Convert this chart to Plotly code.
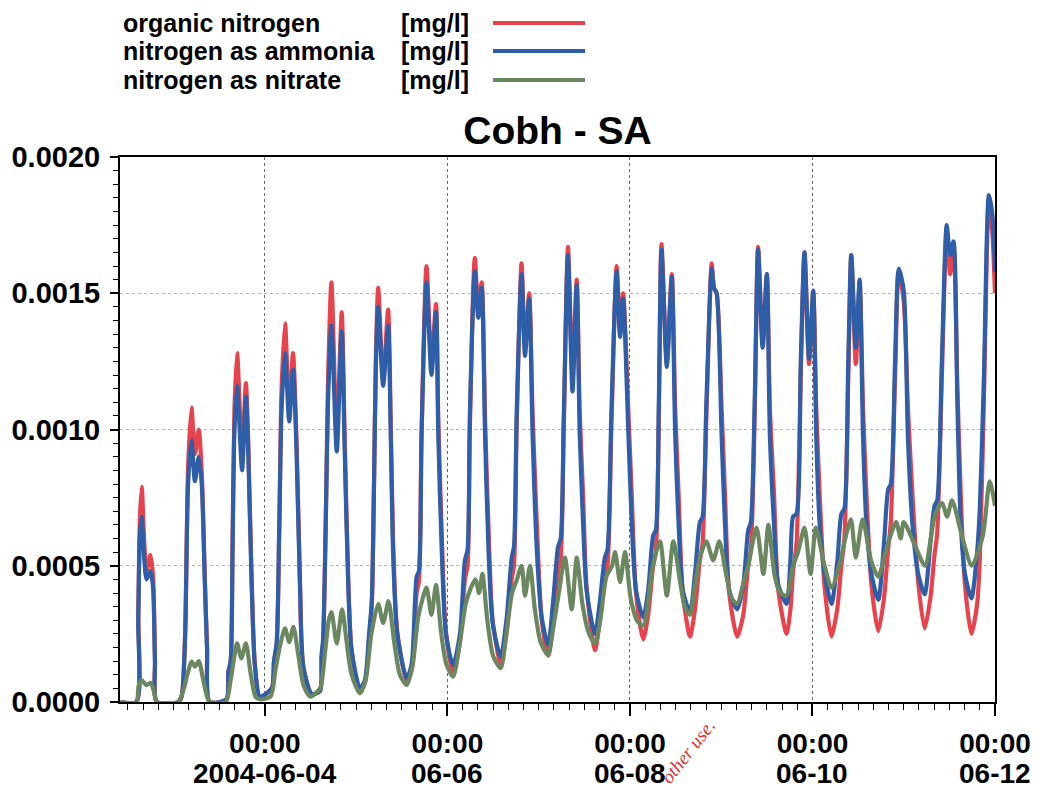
import pandas as pd
import plotly.graph_objects as go

# ---------------- data (hours after 2004-06-04 00:00) ----------------
BASE = pd.Timestamp("2004-06-04 00:00")

T_NH = [
    -38.0, -33.8, -33.3, -32.9, -32.4, -31.7, -31.1, -30.1, -29.4, -28.9, -28.4,
    -22.8, -21.9, -21.0, -20.2, -19.3, -18.4, -17.4, -16.6, -15.8, -15.2, -14.5,
    -10.1, -9.6, -9.0, -8.5, -8.0, -7.3, -6.0, -5.0, -4.4, -3.5, -2.6, -1.3,
    1.8, 2.4, 3.1, 3.8, 4.4, 5.3, 6.4, 7.4, 8.3, 9.2, 10.1, 12.3,
    14.5, 14.9, 15.3, 16.0, 16.6, 17.5, 18.9, 20.2, 21.0, 21.9, 22.8, 25.0,
    26.3, 27.4, 28.1, 28.7, 29.2, 29.8, 31.1, 32.4, 33.1, 33.7, 34.8, 37.3,
    38.6, 39.9, 40.5, 41.2, 42.5, 43.8, 45.0, 45.6, 46.5, 47.6, 49.5,
    51.3, 52.6, 53.3, 53.9, 55.2, 56.1, 57.0, 57.9, 58.8, 59.9, 62.0,
    63.6, 64.9, 65.5, 66.2, 67.5, 68.4, 69.5, 70.4, 71.5, 72.8, 74.5,
    75.8, 77.1, 77.8, 78.6, 79.7, 80.9, 82.0, 82.8, 83.7, 84.6, 86.8,
    88.1, 89.4, 90.1, 91.1, 92.5, 93.4, 94.2, 95.6, 96.5, 97.6, 99.5,
    100.8, 102.1, 102.8, 103.6, 104.3, 105.7, 107.0, 107.9, 108.8, 109.9, 111.8,
    113.1, 114.4, 115.1, 116.1, 117.5, 118.1, 118.8, 120.1, 121.0, 122.1, 124.2,
    125.8, 127.1, 127.8, 128.8, 129.7, 130.9, 132.0, 132.8, 133.9, 135.0, 137.2,
    138.2, 138.9, 139.8, 140.9, 141.9, 143.1, 144.2, 145.0, 145.9, 147.2, 149.0,
    150.5, 151.6, 152.4, 153.4, 154.2, 155.4, 156.4, 157.3, 158.2, 159.5, 161.3,
    162.8, 163.9, 164.6, 165.7, 166.7, 168.0, 169.1, 170.3, 171.8, 173.5,
    175.0, 176.1, 176.8, 178.0, 179.3, 180.2, 181.1, 182.1, 183.0, 184.1, 185.8,
    187.3, 188.0, 189.1, 190.4, 191.3, 192.0,
]

AMMONIA = [
    0, 0, 0.00030, 0.00060, 0.00068, 0.00052, 0.00045, 0.00048, 0.00042, 0.00015, 0,
    0, 0.00002, 0.00023, 0.00080, 0.00096, 0.00081, 0.00090, 0.00080, 0.00044, 0.00019, 0,
    0.00001, 0.00011, 0.00015, 0.00056, 0.00100, 0.00116, 0.00085, 0.00112, 0.00093, 0.00044, 0.00013, 0.00002,
    0.00005, 0.00015, 0.00022, 0.00065, 0.00108, 0.00128, 0.00103, 0.00122, 0.00093, 0.00044, 0.00013, 0.00003,
    0.00004, 0.00017, 0.00023, 0.00065, 0.00110, 0.00138, 0.00092, 0.00136, 0.00092, 0.00044, 0.00019, 0.00005,
    0.00008, 0.00025, 0.00037, 0.00080, 0.00124, 0.00145, 0.00116, 0.00138, 0.00098, 0.00056, 0.00025, 0.000087,
    0.00014, 0.00046, 0.00048, 0.00098, 0.00154, 0.00120, 0.00143, 0.00098, 0.00056, 0.00025, 0.000136,
    0.00025, 0.00052, 0.00056, 0.00105, 0.00158, 0.00141, 0.00152, 0.00098, 0.00056, 0.00029, 0.000166,
    0.00031, 0.00053, 0.00057, 0.00105, 0.00157, 0.00127, 0.00148, 0.00098, 0.00056, 0.00031, 0.00021,
    0.00037, 0.00057, 0.00060, 0.00105, 0.00164, 0.00114, 0.00153, 0.00098, 0.00065, 0.00041, 0.00025,
    0.00037, 0.00053, 0.00056, 0.00105, 0.00158, 0.00134, 0.00148, 0.00098, 0.00065, 0.00041, 0.00031,
    0.00041, 0.00061, 0.00063, 0.00110, 0.00166, 0.00123, 0.00156, 0.00098, 0.00065, 0.00041, 0.00033,
    0.00047, 0.00066, 0.00068, 0.00110, 0.00159, 0.00152, 0.00150, 0.00098, 0.00065, 0.00041, 0.00034,
    0.00043, 0.00063, 0.00066, 0.00110, 0.00166, 0.00130, 0.00157, 0.00098, 0.00065, 0.00043, 0.00036,
    0.00052, 0.00068, 0.00069, 0.00124, 0.00165, 0.00126, 0.00151, 0.00097, 0.00065, 0.00047, 0.00036,
    0.00051, 0.00069, 0.00071, 0.00124, 0.00164, 0.00130, 0.00155, 0.00097, 0.00065, 0.00047, 0.000375,
    0.00058, 0.00078, 0.00080, 0.00124, 0.00159, 0.00151, 0.00097, 0.00065, 0.00047, 0.000395,
    0.00058, 0.00072, 0.00074, 0.00124, 0.00175, 0.00164, 0.00169, 0.00110, 0.00065, 0.00047, 0.00038,
    0.00055, 0.00071, 0.00120, 0.00186, 0.00179, 0.00158,
]

ORGANIC = [
    0, 0, 0.00032, 0.00066, 0.00079, 0.00058, 0.00048, 0.00054, 0.00046, 0.00016, 0,
    0, 0.00002, 0.00024, 0.00086, 0.00108, 0.00091, 0.00100, 0.00084, 0.00046, 0.00020, 0,
    0.00001, 0.00011, 0.00015, 0.00058, 0.00108, 0.00128, 0.00091, 0.00117, 0.00097, 0.00046, 0.00013, 0.00002,
    0.00005, 0.00015, 0.00021, 0.00066, 0.00115, 0.00139, 0.00108, 0.00128, 0.00097, 0.00046, 0.00013, 0.00003,
    0.00004, 0.00016, 0.00021, 0.00066, 0.00118, 0.00154, 0.00098, 0.00143, 0.00096, 0.00046, 0.00019, 0.00004,
    0.00007, 0.00023, 0.00035, 0.00080, 0.00128, 0.00152, 0.00118, 0.00144, 0.00102, 0.00060, 0.00026, 0.00008,
    0.00012, 0.00040, 0.00044, 0.00098, 0.00160, 0.00125, 0.00146, 0.00104, 0.00062, 0.00026, 0.00011,
    0.00022, 0.00045, 0.00050, 0.00100, 0.00163, 0.00145, 0.00154, 0.00104, 0.00064, 0.00030, 0.00014,
    0.00026, 0.00045, 0.00050, 0.00100, 0.00161, 0.00130, 0.00150, 0.00106, 0.00066, 0.00030, 0.00017,
    0.00030, 0.00048, 0.00053, 0.00100, 0.00167, 0.00120, 0.00155, 0.00106, 0.00075, 0.00042, 0.00019,
    0.00030, 0.00046, 0.00050, 0.00100, 0.00160, 0.00136, 0.00150, 0.00106, 0.00075, 0.00040, 0.00023,
    0.00032, 0.00050, 0.00055, 0.00105, 0.00168, 0.00125, 0.00157, 0.00108, 0.00076, 0.00040, 0.00024,
    0.00034, 0.00052, 0.00058, 0.00105, 0.00161, 0.00152, 0.00150, 0.00108, 0.00076, 0.00040, 0.00024,
    0.00032, 0.00050, 0.00056, 0.00105, 0.00167, 0.00131, 0.00157, 0.00108, 0.00076, 0.00041, 0.00025,
    0.00034, 0.00048, 0.00058, 0.00118, 0.00165, 0.00124, 0.00150, 0.00108, 0.00076, 0.00042, 0.00024,
    0.00034, 0.00050, 0.00060, 0.00118, 0.00164, 0.00124, 0.00154, 0.00108, 0.00076, 0.00043, 0.00026,
    0.00038, 0.00056, 0.00066, 0.00118, 0.00158, 0.00147, 0.00108, 0.00076, 0.00044, 0.00027,
    0.00038, 0.00054, 0.00062, 0.00118, 0.00172, 0.00157, 0.00166, 0.00116, 0.00076, 0.00043, 0.00025,
    0.00036, 0.00052, 0.00112, 0.00184, 0.00172, 0.00150,
]

T_NO3 = [
    -38.0, -33.8, -33.2, -32.4, -31.2, -30.0, -29.2, -28.4,
    -22.8, -21.5, -20.2, -19.3, -18.4, -17.4, -16.2, -15.2, -14.5,
    -10.3, -9.0, -8.0, -7.3, -6.2, -5.0, -3.8, -2.5, -1.3,
    1.5, 2.8, 4.2, 5.3, 6.4, 7.5, 8.7, 10.2, 12.0,
    14.5, 15.8, 16.8, 17.5, 18.9, 20.3, 21.5, 22.8, 25.0,
    26.5, 28.0, 29.8, 31.1, 32.5, 34.0, 35.5, 37.3,
    38.8, 40.3, 41.5, 42.5, 43.8, 45.0, 46.3, 47.7, 49.5,
    51.3, 52.8, 54.2, 55.4, 56.3, 57.2, 58.5, 60.0, 62.0,
    63.6, 65.0, 66.3, 67.5, 68.4, 69.7, 71.0, 72.5, 74.5,
    75.8, 77.3, 78.9, 80.7, 82.0, 83.5, 85.0, 86.8,
    88.3, 89.8, 91.3, 92.1, 93.4, 94.7, 96.2, 97.8, 99.5,
    100.8, 101.9, 103.9, 105.7, 107.4, 109.2, 110.4, 111.8,
    113.0, 114.4, 116.1, 117.9, 119.5, 121.4, 122.8, 124.2,
    125.7, 127.1, 129.3, 131.1, 132.4, 134.1, 135.6, 137.2,
    138.9, 140.2, 141.9, 143.5, 144.9, 147.0, 149.0,
    151.4, 152.3, 154.1, 155.4, 157.2, 159.4, 161.3,
    163.2, 164.5, 166.0, 167.2, 168.0, 171.4, 173.6,
    176.3, 178.1, 179.4, 180.7, 183.3, 185.9,
    188.8, 190.6, 192.0,
]

NITRATE = [
    0, 0, 0.00006, 0.00008, 0.000062, 0.00007, 0.00004, 0,
    0, 0.00004, 0.00011, 0.000148, 0.00013, 0.00015, 0.00008, 0.00002, 0,
    0, 0.00008, 0.00017, 0.000215, 0.00016, 0.000215, 0.00011, 0.00002, 0.00001,
    0.00002, 0.00012, 0.00022, 0.00027, 0.00022, 0.000276, 0.00018, 0.00006, 0.00002,
    0.00005, 0.00018, 0.00030, 0.00033, 0.000215, 0.00034, 0.00022, 0.00010, 0.000032,
    0.00008, 0.00025, 0.00036, 0.00029, 0.00037, 0.00022, 0.00010, 0.000062,
    0.00013, 0.00031, 0.00038, 0.00042, 0.00032, 0.00043, 0.00026, 0.00014, 0.000093,
    0.00022, 0.00036, 0.00042, 0.00045, 0.00040, 0.00047, 0.00030, 0.00017, 0.000124,
    0.00026, 0.00040, 0.00045, 0.00050, 0.00039, 0.00050, 0.00034, 0.00022, 0.000172,
    0.00027, 0.00040, 0.00053, 0.00034, 0.00053, 0.00036, 0.00026, 0.000215,
    0.00031, 0.00046, 0.00050, 0.00055, 0.00044, 0.00055, 0.00038, 0.00030, 0.00028,
    0.00037, 0.00049, 0.00059, 0.00039, 0.00059, 0.00044, 0.00035, 0.00032,
    0.00042, 0.00053, 0.00059, 0.00052, 0.00059, 0.00046, 0.00038, 0.00036,
    0.00043, 0.00050, 0.00064, 0.00047, 0.00065, 0.00046, 0.00040, 0.00039,
    0.00050, 0.00055, 0.00064, 0.00047, 0.00064, 0.00051, 0.00042,
    0.00052, 0.00058, 0.00067, 0.00053, 0.00067, 0.00052, 0.00046,
    0.00055, 0.00061, 0.00066, 0.00060, 0.00066, 0.00056, 0.00050,
    0.00069, 0.00073, 0.00068, 0.00074, 0.00061, 0.00050,
    0.00061, 0.00081, 0.00072,
]

SERIES_NAMES = ["organic nitrogen", "nitrogen as ammonia", "nitrogen as nitrate"]
UNIT = "[mg/l]"
COLORS = ["#e8434d", "#2f5ea8", "#6b8760"]
TITLE = "Cobh - SA"
X_TICKS = ["2004-06-04", "2004-06-06", "2004-06-08", "2004-06-10", "2004-06-12"]
X_TICK_TOP = ["00:00", "00:00", "00:00", "00:00", "00:00"]
X_TICK_DATE = ["2004-06-04", "06-06", "06-08", "06-10", "06-12"]
Y_TICKS = [0.0, 0.0005, 0.0010, 0.0015, 0.0020]
WATERMARK = "other use."

# ---------------- figure ----------------
def to_dt(hours):
    return [BASE + pd.Timedelta(hours=h) for h in hours]

FONT = "Liberation Sans, Arial, sans-serif"
OFF = 8                      # page body margin of the written html
W, H = 1040 - OFF, 790 - OFF
L, T = 120 - OFF, 157 - OFF  # plot area left/top in figure pixels
R, B = W - (995 - OFF), H - (702 - OFF)
PW, PH = W - L - R, H - T - B

def px_x(x):   # screen pixel -> paper
    return (x - OFF - L) / PW

def px_y(y):
    return (H - B - (y - OFF)) / PH

fig = go.Figure()
fig.add_trace(go.Scatter(x=to_dt(T_NH), y=ORGANIC, mode="lines", name=SERIES_NAMES[0],
                         line=dict(color=COLORS[0], width=4.2, shape="spline", smoothing=0.7)))
fig.add_trace(go.Scatter(x=to_dt(T_NH), y=AMMONIA, mode="lines", name=SERIES_NAMES[1],
                         line=dict(color=COLORS[1], width=4.2, shape="spline", smoothing=0.7)))
fig.add_trace(go.Scatter(x=to_dt(T_NO3), y=NITRATE, mode="lines", name=SERIES_NAMES[2],
                         line=dict(color=COLORS[2], width=4.2, shape="spline", smoothing=0.7)))

tick_dates = [pd.Timestamp(d) for d in X_TICKS]

fig.update_layout(
    width=W, height=H,
    margin=dict(l=L, r=R, t=T, b=B, autoexpand=False),
    paper_bgcolor="white", plot_bgcolor="white",
    showlegend=False,
    title=dict(text=TITLE, x=0.5, xref="paper", xanchor="center",
               y=1 - (130 - OFF) / H, yref="container", yanchor="middle",
               font=dict(family=FONT, size=39, color="black", weight="bold")),
)

fig.update_xaxes(
    type="date", automargin=False,
    range=[BASE + pd.Timedelta(hours=-38.1), BASE + pd.Timedelta(hours=192)],
    tickvals=tick_dates, ticktext=X_TICK_TOP,
    tickfont=dict(family=FONT, size=28, color="black", weight="bold"),
    ticks="outside", ticklen=12, tickwidth=1.5, tickcolor="black",
    ticklabelstandoff=3,
    minor=dict(dtick=4 * 3600 * 1000, tick0="2004-06-02 00:00", ticks="outside",
               ticklen=6, tickcolor="black", tickwidth=1, showgrid=False),
    showgrid=True, gridcolor="#666666", gridwidth=1, griddash="dot",
    showline=True, linecolor="black", linewidth=2, mirror=True,
    zeroline=False,
)

fig.update_yaxes(
    range=[0, 0.002], automargin=False,
    tickvals=Y_TICKS, tickformat=".4f",
    tickfont=dict(family=FONT, size=29, color="black", weight="bold"),
    ticks="outside", ticklen=8, tickwidth=1.5, tickcolor="black",
    ticklabelstandoff=4,
    minor=dict(dtick=0.00005, ticks="outside", ticklen=5, tickcolor="black",
               tickwidth=1, showgrid=False),
    showgrid=True, gridcolor="#b0b0b0", gridwidth=1, griddash="dot",
    showline=True, linecolor="black", linewidth=2, mirror=True,
    zeroline=False,
)

# second line of the x tick labels
for d, lab in zip(tick_dates, X_TICK_DATE):
    fig.add_annotation(x=d, xref="x", y=px_y(773), yref="paper", text=lab, showarrow=False,
                       xanchor="center", yanchor="middle",
                       font=dict(family=FONT, size=28, color="black", weight="bold"))

# legend (text left, line sample right), placed above the plot
leg_rows = [23, 51, 80]
for name, color, row in zip(SERIES_NAMES, COLORS, leg_rows):
    yy = px_y(row)
    fig.add_annotation(x=px_x(121), xref="paper", y=yy, yref="paper", text=name, showarrow=False,
                       xanchor="left", yanchor="middle",
                       font=dict(family=FONT, size=25, color="black", weight="bold"))
    fig.add_annotation(x=px_x(399), xref="paper", y=yy, yref="paper", text=UNIT, showarrow=False,
                       xanchor="left", yanchor="middle",
                       font=dict(family=FONT, size=25, color="black", weight="bold"))
    fig.add_shape(type="line", xref="paper", yref="paper", x0=px_x(493), x1=px_x(585),
                  y0=yy, y1=yy, line=dict(color=color, width=4))

# scanned watermark fragment
fig.add_annotation(x=px_x(688), xref="paper", y=px_y(752), yref="paper",
                   xanchor="center", yanchor="middle",
                   text="<i>" + WATERMARK + "</i>", showarrow=False, textangle=-52,
                   font=dict(family="Liberation Serif, Times New Roman, serif", size=19,
                             color="#e03030"))

fig.write_html("out.html")
